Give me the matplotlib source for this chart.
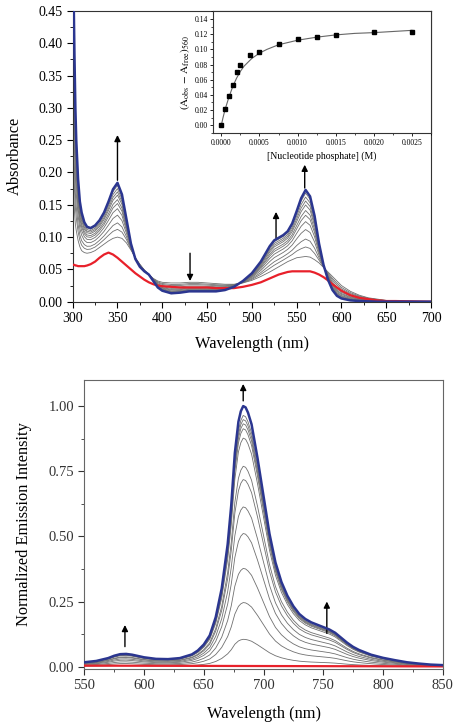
import numpy as np
import matplotlib
matplotlib.use("Agg")
import matplotlib.pyplot as plt
from matplotlib.ticker import MultipleLocator, FormatStrFormatter

plt.rcParams['font.family'] = ['Liberation Serif', 'DejaVu Serif']
plt.rcParams['mathtext.fontset'] = 'stix'

# ---------------- UV-vis absorption (top) ----------------
wl_abs = [300, 301, 302, 303, 304, 306, 308, 310, 313, 316, 320, 325, 330, 335, 340, 345, 350,
          355, 360, 365, 370, 375, 380, 385, 390, 395, 400, 410, 420, 430, 440, 450, 460, 470,
          480, 490, 500, 510, 520, 525, 530, 535, 540, 545, 550, 555, 560, 565, 570, 575, 580,
          585, 590, 595, 600, 610, 620, 630, 640, 650, 660, 680, 700]
abs_final = [0.60, 0.48, 0.38, 0.30, 0.25, 0.19, 0.155, 0.138, 0.123, 0.116, 0.114, 0.118, 0.126,
             0.138, 0.155, 0.174, 0.184, 0.166, 0.128, 0.090, 0.066, 0.054, 0.047, 0.042, 0.032,
             0.022, 0.017, 0.013, 0.014, 0.016, 0.016, 0.016, 0.016, 0.018, 0.023, 0.032, 0.044,
             0.062, 0.086, 0.095, 0.099, 0.103, 0.109, 0.121, 0.140, 0.160, 0.173, 0.163, 0.133,
             0.090, 0.057, 0.034, 0.018, 0.009, 0.005, 0.002, 0.001, 0.0005, 0.0, 0.0, 0.0, 0.0, 0.0]
abs_first = [0.22, 0.17, 0.14, 0.12, 0.11, 0.095, 0.085, 0.079, 0.076, 0.075, 0.076, 0.079, 0.084,
             0.089, 0.094, 0.098, 0.100, 0.098, 0.091, 0.080, 0.068, 0.058, 0.049, 0.042, 0.036,
             0.032, 0.030, 0.029, 0.029, 0.030, 0.030, 0.029, 0.028, 0.027, 0.027, 0.029, 0.033,
             0.039, 0.046, 0.050, 0.054, 0.058, 0.062, 0.065, 0.068, 0.069, 0.070, 0.069, 0.065,
             0.060, 0.053, 0.046, 0.039, 0.032, 0.025, 0.016, 0.010, 0.006, 0.004, 0.002, 0.001,
             0.0005, 0.0]
abs_free = [0.057, 0.057, 0.057, 0.056, 0.056, 0.055, 0.055, 0.055, 0.055, 0.056, 0.058, 0.062,
            0.068, 0.073, 0.076, 0.073, 0.068, 0.062, 0.056, 0.050, 0.044, 0.039, 0.034, 0.030,
            0.027, 0.025, 0.024, 0.023, 0.022, 0.022, 0.022, 0.022, 0.021, 0.021, 0.021, 0.023,
            0.026, 0.030, 0.036, 0.039, 0.042, 0.044, 0.046, 0.047, 0.047, 0.047, 0.047, 0.047,
            0.045, 0.042, 0.038, 0.033, 0.027, 0.022, 0.017, 0.010, 0.006, 0.004, 0.002, 0.001,
            0.001, 0.0005, 0.0]
# absorbance at 350 nm of each intermediate titration spectrum
abs_peak350 = [0.100, 0.112, 0.122, 0.134, 0.144, 0.152, 0.158, 0.165, 0.170, 0.175, 0.180]

# ---------------- inset binding isotherm ----------------
conc = [0.0, 0.00005, 0.0001, 0.00015, 0.0002, 0.00025, 0.000375, 0.0005, 0.00075, 0.001,
        0.00125, 0.0015, 0.002, 0.0025]
dA560 = [0.0, 0.022, 0.039, 0.053, 0.070, 0.079, 0.092, 0.096, 0.107, 0.113, 0.116, 0.119,
         0.123, 0.123]
fit_conc = [0.0, 0.00002, 0.00005, 0.0001, 0.00015, 0.0002, 0.00025, 0.0003, 0.0004, 0.0005,
            0.0006, 0.00075, 0.001, 0.00125, 0.0015, 0.00175, 0.002, 0.00225, 0.0025]
fit_dA = [0.0, 0.009, 0.021, 0.037, 0.051, 0.062, 0.071, 0.078, 0.088, 0.095, 0.100, 0.106,
          0.112, 0.116, 0.119, 0.121, 0.122, 0.1235, 0.125]

# ---------------- emission (bottom) ----------------
wl_em = [550, 560, 570, 575, 580, 585, 590, 600, 610, 620, 630, 640, 645, 650, 655, 660, 665,
         670, 673, 676, 679, 681, 683, 685, 687, 690, 695, 700, 705, 710, 715, 720, 725, 730,
         735, 740, 745, 750, 755, 760, 765, 770, 775, 780, 790, 800, 810, 820, 830, 840, 850]
em_final = [0.017, 0.022, 0.033, 0.042, 0.048, 0.049, 0.046, 0.036, 0.030, 0.029, 0.033, 0.047,
            0.062, 0.085, 0.120, 0.19, 0.30, 0.47, 0.62, 0.82, 0.94, 0.98, 1.0, 0.995, 0.975,
            0.93, 0.80, 0.655, 0.51, 0.40, 0.325, 0.272, 0.232, 0.202, 0.183, 0.170, 0.161,
            0.152, 0.143, 0.130, 0.111, 0.092, 0.076, 0.064, 0.046, 0.034, 0.025, 0.017, 0.012,
            0.008, 0.006]
em_peaks = [0.105, 0.246, 0.377, 0.511, 0.613, 0.718, 0.769, 0.877, 0.913, 0.932, 0.948, 0.964]
wl_em_free = [550, 650, 750, 850]
em_free = [0.004, 0.003, 0.002, 0.001]

GRAY = '#707070'
BLUE = '#2b3690'
RED = '#e8202a'

fig = plt.figure(figsize=(4.6, 7.28), dpi=100)

# ---- top panel ----
ax1 = fig.add_axes([0.158, 0.5856, 0.779, 0.3993])
wa = np.array(wl_abs)
a_fin = np.array(abs_final)
a_first = np.array(abs_first)
for p in abs_peak350:
    f = (p - abs_peak350[0]) / (abs_final[wl_abs.index(350)] - abs_peak350[0])
    ax1.plot(wa, a_first + f * (a_fin - a_first), color=GRAY, lw=0.6, zorder=2)
ax1.plot(wa, abs_free, color=RED, lw=1.6, zorder=3)
ax1.plot(wa, a_fin, color=BLUE, lw=1.8, zorder=4)
ax1.set_xlim(300, 700)
ax1.set_ylim(0, 0.45)
ax1.xaxis.set_major_locator(MultipleLocator(50))
ax1.xaxis.set_minor_locator(MultipleLocator(25))
ax1.yaxis.set_major_locator(MultipleLocator(0.05))
ax1.yaxis.set_minor_locator(MultipleLocator(0.025))
ax1.yaxis.set_major_formatter(FormatStrFormatter('%.2f'))
ax1.tick_params(which='both', direction='out', labelsize=10, top=False, right=False)
ax1.tick_params(which='major', length=4)
ax1.tick_params(which='minor', length=2)
ax1.set_xlabel('Wavelength (nm)', fontsize=11.8, labelpad=8)
ax1.set_ylabel('Absorbance', fontsize=11.8, labelpad=11)
for s in ax1.spines.values():
    s.set_color('#333333')
arrow = dict(arrowstyle='-|>', color='black', lw=1.0, mutation_scale=9, shrinkA=0, shrinkB=0)
ax1.annotate('', xy=(350, 0.258), xytext=(350, 0.188), arrowprops=arrow)
ax1.annotate('', xy=(431, 0.032), xytext=(431, 0.075), arrowprops=arrow)
ax1.annotate('', xy=(527, 0.139), xytext=(527, 0.098), arrowprops=arrow)
ax1.annotate('', xy=(559, 0.212), xytext=(559, 0.176), arrowprops=arrow)

# ---- inset ----
axi = fig.add_axes([0.4637, 0.8169, 0.4733, 0.168])
axi.plot(fit_conc, fit_dA, color='#666666', lw=0.8, zorder=2)
axi.plot(conc, dA560, 's', color='black', ms=2.5, zorder=3)
axi.set_xlim(-0.000105, 0.00275)
axi.set_ylim(-0.0106, 0.1505)
axi.xaxis.set_major_locator(MultipleLocator(0.0005))
axi.xaxis.set_minor_locator(MultipleLocator(0.00025))
axi.yaxis.set_major_locator(MultipleLocator(0.02))
axi.yaxis.set_minor_locator(MultipleLocator(0.01))
axi.xaxis.set_major_formatter(FormatStrFormatter('%.4f'))
axi.yaxis.set_major_formatter(FormatStrFormatter('%.2f'))
axi.tick_params(which='both', direction='out', labelsize=5.5, pad=1.5, top=False, right=False)
axi.tick_params(which='major', length=2.5, width=0.6)
axi.tick_params(which='minor', length=1.3, width=0.5)
axi.set_xlabel('[Nucleotide phosphate] (M)', fontsize=7, labelpad=3)
axi.set_ylabel(r'$(\mathrm{A}_{\mathrm{obs}}\,-\,\mathrm{A}_{\mathrm{free}})_{560}$', fontsize=8, labelpad=2)
for s in axi.spines.values():
    s.set_color('#333333')
    s.set_linewidth(0.8)

# ---- bottom panel ----
ax2 = fig.add_axes([0.1833, 0.081, 0.7791, 0.397])
we = np.array(wl_em)
e_fin = np.array(em_final)
for p in em_peaks:
    ax2.plot(we, p * e_fin, color=GRAY, lw=0.6, zorder=2)
ax2.plot(wl_em_free, em_free, color=RED, lw=1.6, zorder=3)
ax2.plot(we, e_fin, color=BLUE, lw=1.8, zorder=4)
ax2.set_xlim(550, 850)
ax2.set_ylim(-0.009, 1.1)
ax2.xaxis.set_major_locator(MultipleLocator(50))
ax2.xaxis.set_minor_locator(MultipleLocator(25))
ax2.yaxis.set_major_locator(MultipleLocator(0.25))
ax2.yaxis.set_minor_locator(MultipleLocator(0.125))
ax2.yaxis.set_major_formatter(FormatStrFormatter('%.2f'))
ax2.tick_params(which='both', direction='out', labelsize=10.5, top=False, right=False, colors='#333333')
ax2.tick_params(which='major', length=4)
ax2.tick_params(which='minor', length=2)
ax2.set_xlabel('Wavelength (nm)', fontsize=11.8, labelpad=10)
ax2.set_ylabel('Normalized Emission Intensity', fontsize=11.8, labelpad=12)
for s in ax2.spines.values():
    s.set_color('#666666')
ax2.annotate('', xy=(584, 0.16), xytext=(584, 0.077), arrowprops=arrow)
ax2.annotate('', xy=(683, 1.085), xytext=(683, 1.02), arrowprops=arrow)
ax2.annotate('', xy=(753, 0.25), xytext=(753, 0.128), arrowprops=arrow)

fig.savefig('out.png', dpi=100)
